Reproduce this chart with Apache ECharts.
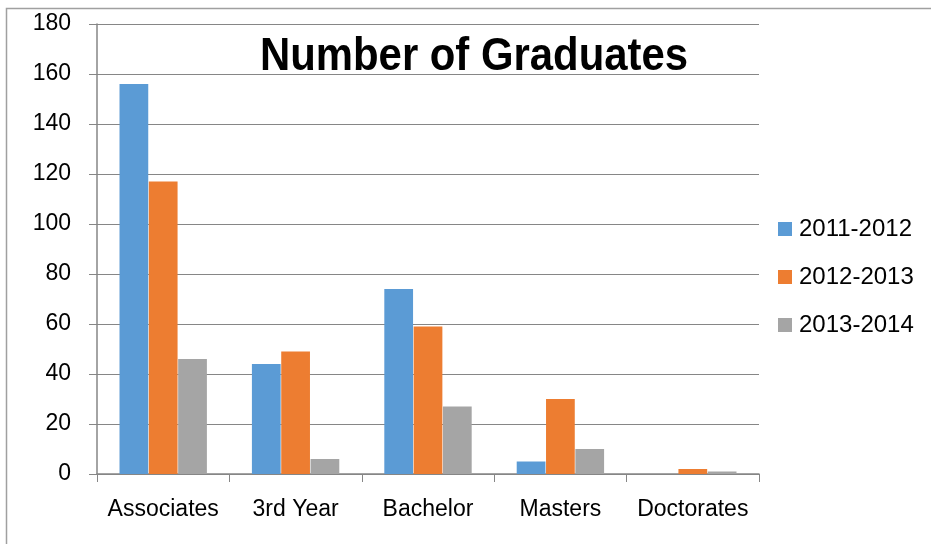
<!DOCTYPE html>
<html>
<head>
<meta charset="utf-8">
<script src="https://cdn.jsdelivr.net/npm/echarts@6/dist/echarts.min.js"></script>
<style>
  html, body { margin: 0; padding: 0; background: #fff; }
  #chart { width: 931px; height: 544px; }
</style>
</head>
<body>
<div id="chart"></div>
<script>
// chart data
const categories = ["Associates", "3rd Year", "Bachelor", "Masters", "Doctorates"];
const seriesNames = ["2011-2012", "2012-2013", "2013-2014"];
const values2011 = [156, 44, 74, 5, 0];
const values2012 = [117, 49, 59, 30, 2];
const values2013 = [46, 6, 27, 10, 1];
const colors = ["#5B9BD5", "#ED7D31", "#A5A5A5"];
const chartTitle = "Number of Graduates";

const font = "'Liberation Sans', Arial, sans-serif";
const chart = echarts.init(document.getElementById("chart"));

const seriesData = [values2011, values2012, values2013].map((vals, i) => ({
  name: seriesNames[i],
  type: "bar",
  data: vals,
  barGap: "2%",
  barCategoryGap: "34%",
  itemStyle: { color: colors[i] },
}));

const option = {
  backgroundColor: "#ffffff",
  animation: false,
  legend: {
    data: seriesNames,
    orient: "vertical",
    left: 778,
    top: 216,
    padding: 0,
    itemWidth: 14,
    itemHeight: 14,
    itemGap: 22,
    icon: "rect",
    textStyle: { fontFamily: font, fontSize: 24, color: "#000", padding: [0, 0, 0, 2], lineHeight: 26 },
  },
  grid: { left: 97, right: 172, top: 24, bottom: 70 },
  xAxis: {
    type: "category",
    data: categories,
    axisLine: { lineStyle: { color: "#868686", width: 1.5 } },
    axisTick: { show: true, length: 8, lineStyle: { color: "#868686" } },
    axisLabel: { interval: 0, fontFamily: font, fontSize: 23, color: "#000", margin: 24 },
  },
  yAxis: {
    type: "value",
    min: 0,
    max: 180,
    interval: 20,
    axisLine: { show: true, lineStyle: { color: "#868686", width: 1.5 } },
    axisTick: { show: true, length: 8, lineStyle: { color: "#868686" } },
    axisLabel: { fontFamily: font, fontSize: 23, color: "#000", margin: 26 },
    splitLine: { lineStyle: { color: "#868686" } },
  },
  graphic: [
    {
      type: "rect",
      shape: { x: 6.5, y: 8.5, width: 1000, height: 1000 },
      style: { fill: "none", stroke: "#a0a0a0", lineWidth: 1.5 },
      z: -10,
    },
    {
      // narrow bold title
      type: "text",
      x: 474,
      y: 34,
      scaleX: 0.91,
      z: 10,
      style: {
        text: chartTitle,
        fontFamily: font,
        fontWeight: "bold",
        fontSize: 46,
        fill: "#000",
        align: "center",
        verticalAlign: "top",
      },
    },
  ],
  series: seriesData,
};

chart.setOption(option);
</script>
</body>
</html>
